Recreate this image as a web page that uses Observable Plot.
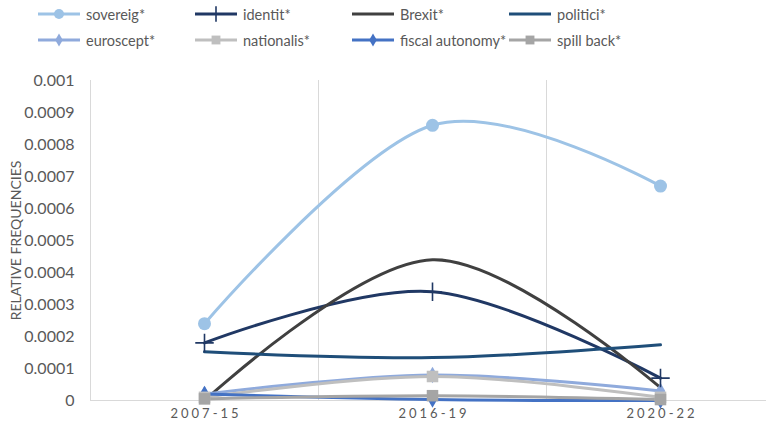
<!DOCTYPE html>
<html>
<head>
<meta charset="utf-8">
<script src="https://cdn.jsdelivr.net/npm/d3@7"></script>
<script src="https://cdn.jsdelivr.net/npm/@observablehq/plot@0.6"></script>
<style>
  html, body { margin: 0; padding: 0; background: #fff; }
  #wrap { position: relative; width: 766px; height: 426px; font-family: Lato, "Open Sans", sans-serif; }
  #legend { position: relative; height: 55px; }
  .item { position: absolute; display: flex; align-items: center; font-size: 14.5px; color: #595959; white-space: nowrap; }
  .item svg { display: block; margin-right: 4px; }
  #chart svg { display: block; }
  #chart g[aria-label="x-axis tick label"] text { letter-spacing: 3px; }
</style>
</head>
<body>
<div id="wrap">
  <div id="legend"></div>
  <div id="chart"></div>
</div>
<script>
// Periods on the x axis
const periods = ["2007-15", "2016-19", "2020-22"];

// Relative frequencies of each search term per period
const sovereig       = [0.00024, 0.00086, 0.00067];
const identit        = [0.00018, 0.00034, 0.00007];
const brexit         = [0.0, 0.00044, 0.00004];
const politici       = [0.000152, 0.000134, 0.000174];
const euroscept      = [0.00002, 0.00008, 0.00003];
const nationalis     = [0.00001, 0.000075, 0.00001];
const fiscalAutonomy = [0.00002, 0.000003, 0.0];
const spillBack      = [0.000005, 0.000015, 0.000003];

// Series names, colours and marker symbols (null = no marker)
const names   = ["sovereig*", "identit*", "Brexit*", "politici*", "euroscept*", "nationalis*", "fiscal autonomy*", "spill back*"];
const colors  = ["#9DC3E6", "#203864", "#404040", "#1F4E79", "#8FAADC", "#BFBFBF", "#4472C4", "#A5A5A5"];
const symbols = ["circle", "plus", null, null, "diamond", "square", "diamond", "square"];
const values  = [sovereig, identit, brexit, politici, euroscept, nationalis, fiscalAutonomy, spillBack];

// Y axis tick values
const yTicks = [0, 0.0001, 0.0002, 0.0003, 0.0004, 0.0005, 0.0006, 0.0007, 0.0008, 0.0009, 0.001];

const rows = names.flatMap((name, s) =>
  periods.map((p, i) => ({ name, s, i, period: p, value: values[s][i], symbol: symbols[s] }))
);
// marker radius (in px) per symbol type, plot and legend
const markerSize = { circle: 6.5, plus: 6, diamond: 5, square: 6.5 };
const legendSize = { circle: 5, plus: 5, diamond: 4, square: 5 };

// Boundaries between periods (vertical gridlines)
const bounds = periods.map((_, i) => i - 0.5);

const markerMarks = ["circle", "diamond", "square"].map(sym =>
  Plot.dot(rows.filter(d => d.symbol === sym), {
    x: "i", y: "value", fill: "name", symbol: sym, r: markerSize[sym], stroke: "none"
  })
);

const chart = Plot.plot({
  width: 766,
  height: 371,
  marginTop: 25,
  marginBottom: 26,
  marginLeft: 90,
  marginRight: 0,
  style: { fontFamily: "Lato, 'Open Sans', sans-serif", color: "#595959", background: "#fff" },
  x: { domain: [-0.5, 2.5], range: [90, 774], axis: null },
  y: { domain: [0, 0.001], axis: null },
  color: { domain: names, range: colors },
  marks: [
    Plot.ruleX(bounds, { x: d => d, y1: 0, y2: 0.001, stroke: "#D9D9D9", strokeWidth: 1 }),
    Plot.ruleY([0], { stroke: "#D9D9D9", strokeWidth: 1 }),
    Plot.axisY({ ticks: yTicks, tickSize: 0, tickPadding: 16, fontSize: 16, label: null,
                 tickFormat: d => d === 0 ? "0" : String(+d.toFixed(4)) }),
    Plot.axisX({ ticks: periods.map((_, i) => i), tickSize: 0, tickPadding: 8, fontSize: 13, label: null, dx: 1.5,
                 tickFormat: i => periods[i] }),
    Plot.text(["RELATIVE FREQUENCIES"], { frameAnchor: "left", textAnchor: "middle", rotate: -90, dx: -74, fontSize: 14, fill: "#595959" }),
    Plot.line(rows, { x: "i", y: "value", z: "name", stroke: "name", strokeWidth: 3, curve: "cardinal" }),
    ...markerMarks,
    Plot.dot(rows.filter(d => d.symbol === "plus"), {
      x: "i", y: "value", stroke: "name", symbol: "plus", r: markerSize.plus, strokeWidth: 1.6
    })
  ]
});
document.getElementById("chart").appendChild(chart);

// Legend: two rows of four entries
const legend = d3.select("#legend");
names.forEach((name, s) => {
  const col = s % 4, row = Math.floor(s / 4);
  const item = legend.append("div").attr("class", "item")
    .style("left", (38 + col * 157) + "px")
    .style("top", (5 + row * 26) + "px");
  const sw = item.append("svg").attr("width", 44).attr("height", 18);
  sw.append("line").attr("x1", 0).attr("x2", 42).attr("y1", 9).attr("y2", 9)
    .attr("stroke", colors[s]).attr("stroke-width", 3);
  const sym = symbols[s];
  if (sym) {
    const type = { circle: d3.symbolCircle, plus: d3.symbolPlus, diamond: d3.symbolDiamond, square: d3.symbolSquare }[sym];
    const r = legendSize[sym];
    const p = sw.append("path").attr("transform", "translate(21,9)")
      .attr("d", d3.symbol(type, Math.PI * r * r)());
    if (sym === "plus") p.attr("fill", "none").attr("stroke", colors[s]).attr("stroke-width", 1.6);
    else p.attr("fill", colors[s]);
  }
  item.append("span").text(name);
});
</script>
</body>
</html>
